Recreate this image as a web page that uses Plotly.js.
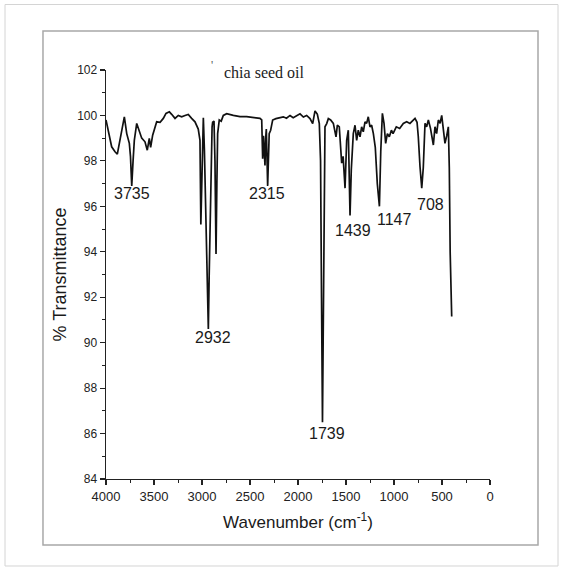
<!DOCTYPE html>
<html>
<head>
<meta charset="utf-8">
<script src="https://cdn.plot.ly/plotly-3.0.1.min.js"></script>
<style>
  html, body { margin: 0; padding: 0; background: #ffffff; }
  #chart { width: 564px; height: 571px; }
</style>
</head>
<body>
<div id="chart"></div>
<script>
// Wavenumber (cm-1)
const wavenumber = [
  4000, 3976, 3941, 3906, 3882, 3861, 3837, 3809, 3784, 3757, 3745, 3732, 3718, 3705,
  3680, 3653, 3628, 3594, 3570, 3549, 3535, 3514, 3497, 3472, 3437, 3403, 3375, 3340,
  3316, 3281, 3247, 3212, 3177, 3143, 3108, 3073, 3039, 3021, 3012, 3003, 2995, 2986,
  2975, 2960, 2945, 2934, 2925, 2910, 2895, 2889, 2875, 2865, 2854, 2845, 2837, 2820,
  2800, 2778, 2743, 2674, 2604, 2535, 2465, 2396, 2378, 2368, 2360, 2352, 2344, 2337,
  2330, 2316, 2300, 2285, 2264, 2230, 2190, 2153, 2120, 2083, 2050, 2014, 1979, 1944,
  1910, 1875, 1847, 1823, 1799, 1778, 1765, 1755, 1745, 1738, 1730, 1719, 1701, 1684,
  1660, 1632, 1604, 1590, 1570, 1545, 1530, 1510, 1493, 1476, 1458, 1445, 1424, 1406,
  1389, 1372, 1354, 1337, 1320, 1302, 1285, 1268, 1250, 1233, 1215, 1195, 1174, 1152,
  1138, 1121, 1104, 1087, 1069, 1049, 1027, 1010, 976, 941, 903, 868, 834, 799,
  781, 760, 747, 729, 711, 695, 677, 660, 642, 620, 590, 573, 556, 538,
  520, 503, 486, 469, 451, 434, 424, 415, 399
];
// % Transmittance
const transmittance = [
  99.8, 99.28, 98.62, 98.4, 98.3, 98.77, 99.28, 99.94, 99.2, 98.77, 98.2, 96.9, 98.0, 98.9,
  99.65, 99.35, 99.0, 98.84, 98.47, 98.99, 98.6, 99.13, 99.35, 99.72, 99.7, 99.87, 100.09, 100.16,
  100.05, 99.87, 100.0, 99.94, 100.0, 100.04, 99.87, 99.72, 99.4, 98.9, 95.2, 97.5, 99.4, 99.9,
  98.5, 95.0, 91.8, 90.6, 93.0, 97.0, 99.5, 99.7, 99.75, 98.0, 93.9, 97.0, 99.2, 99.8,
  99.75, 100.0, 100.08, 100.0, 99.95, 99.95, 99.9, 99.87, 99.8, 98.1, 99.1, 98.3, 97.8, 99.0,
  99.4, 96.9, 99.2, 99.35, 99.8, 99.86, 99.9, 99.94, 99.88, 100.0, 99.9, 100.0, 100.07, 99.93,
  100.0, 99.86, 99.64, 100.2, 100.06, 99.64, 98.0, 92.0, 86.5, 90.0, 96.0, 99.5, 99.64, 99.86,
  99.8, 99.65, 99.06, 99.57, 99.5, 97.9, 98.2, 96.8, 98.9, 99.35, 95.6, 97.6, 99.2, 99.57,
  98.9, 99.35, 99.06, 99.5, 99.28, 99.72, 99.65, 99.94, 99.5, 99.57, 99.2, 98.6, 97.0, 96.0,
  98.4, 100.09, 99.65, 98.77, 99.2, 99.06, 99.35, 99.2, 99.5, 99.43, 99.65, 99.72, 99.65, 99.8,
  99.87, 99.7, 99.06, 97.74, 96.8, 97.7, 99.65, 99.5, 99.8, 99.43, 98.7, 99.5, 99.2, 99.8,
  99.65, 100.0, 99.5, 98.77, 99.1, 99.5, 97.7, 94.0, 91.15
];
// Peak labels and where they sit (data coords)
const peakLabels = ["3735", "2932", "2315", "1739", "1439", "1147", "708"];
const peakLabelX = [3732, 2882, 2323, 1701, 1427, 1000, 625];
const peakLabelY = [96.57, 90.23, 96.57, 86.0, 94.94, 95.42, 96.06];

const xTickVals = [4000, 3500, 3000, 2500, 2000, 1500, 1000, 500, 0];
const yTickVals = [84, 86, 88, 90, 92, 94, 96, 98, 100, 102];

const sansFont = "Liberation Sans, Arial, Helvetica, sans-serif";
const serifFont = "Liberation Serif, Times New Roman, serif";

const trace = {
  x: wavenumber,
  y: transmittance,
  type: "scatter",
  mode: "lines",
  line: { color: "#111111", width: 1.7 },
  hoverinfo: "x+y",
  showlegend: false
};

const annotations = peakLabels.map((t, i) => ({
  x: peakLabelX[i], y: peakLabelY[i], xref: "x", yref: "y",
  text: t, showarrow: false, xanchor: "center", yanchor: "middle",
  font: { family: sansFont, size: 16, color: "#1a1a1a" }
}));
annotations.push({
  x: 0.414, y: 0.993, xref: "paper", yref: "paper",
  text: "chia seed oil", showarrow: false, xanchor: "center", yanchor: "middle",
  font: { family: serifFont, size: 16, color: "#222222" }
});
annotations.push({
  x: 0.275, y: 1.012, xref: "paper", yref: "paper",
  text: "'", showarrow: false, xanchor: "center", yanchor: "middle",
  font: { family: serifFont, size: 12, color: "#555555" }
});

const layout = {
  width: 564,
  height: 571,
  margin: { l: 106, r: 74, t: 70, b: 92, pad: 0 },
  paper_bgcolor: "#ffffff",
  plot_bgcolor: "#ffffff",
  showlegend: false,
  xaxis: {
    range: [4000, 0],
    autorange: false,
    tickvals: xTickVals,
    ticks: "outside",
    ticklen: 5,
    tickwidth: 1.2,
    tickcolor: "#222222",
    showline: true,
    linecolor: "#222222",
    linewidth: 1.4,
    showgrid: false,
    zeroline: false,
    tickfont: { family: sansFont, size: 13, color: "#222222" },
    minor: { dtick: 250, ticks: "outside", ticklen: 3, tickcolor: "#222222", tickwidth: 1, showgrid: false },
    title: {
      text: "Wavenumber (cm<sup>-1</sup>)",
      font: { family: sansFont, size: 17, color: "#1a1a1a" },
      standoff: 13
    },
    automargin: false
  },
  yaxis: {
    range: [84, 102],
    autorange: false,
    tickvals: yTickVals,
    ticks: "outside",
    ticklen: 5,
    tickwidth: 1.2,
    tickcolor: "#222222",
    showline: true,
    linecolor: "#222222",
    linewidth: 1.4,
    showgrid: false,
    zeroline: false,
    tickfont: { family: sansFont, size: 12, color: "#222222" },
    minor: { dtick: 1, ticks: "outside", ticklen: 3, tickcolor: "#222222", tickwidth: 1, showgrid: false },
    title: {
      text: "% Transmittance",
      font: { family: sansFont, size: 18, color: "#1a1a1a" },
      standoff: 6
    },
    automargin: false
  },
  annotations: annotations,
  shapes: [
    { type: "rect", xref: "paper", yref: "paper", x0: -0.2630, x1: 1.1771, y0: -0.2127, y1: 1.1601,
      line: { color: "#d4d4d4", width: 1 }, fillcolor: "rgba(0,0,0,0)", layer: "below" },
    { type: "rect", xref: "paper", yref: "paper", x0: -0.1641, x1: 1.125, y0: -0.1614, y1: 1.0954,
      line: { color: "#a8a8a8", width: 1.5 }, fillcolor: "rgba(0,0,0,0)", layer: "below" }
  ]
};

Plotly.newPlot("chart", [trace], layout, { displayModeBar: false, staticPlot: true });
</script>
</body>
</html>
